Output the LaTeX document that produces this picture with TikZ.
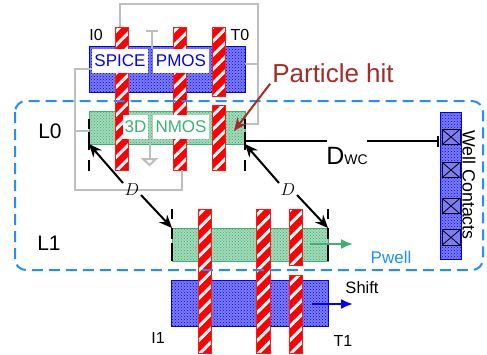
\documentclass[tikz,border=0pt]{standalone}
\usepackage{fontspec}
\setmainfont{Liberation Sans}
\usetikzlibrary{arrows.meta,patterns,calc}
\definecolor{gw}{HTML}{BEBEBE}
\definecolor{pw}{HTML}{1E90FF}
\definecolor{gn}{HTML}{3CB371}
\definecolor{hit}{HTML}{A52A2A}
\definecolor{bf}{HTML}{7C7CF4}
\definecolor{gf}{HTML}{A4D8BA}
\tikzset{
 x=1pt,y=-1pt,
 gatebar/.style={draw=red!90!white,line width=1pt,fill=red,inner sep=0pt,outer sep=0pt,minimum width=13.5pt,
  path picture={
   \coordinate (ppw) at (path picture bounding box.south west);
   \foreach \k in {0,...,13}{
    \pgfmathsetlengthmacro{\dy}{\k*14-20}
    \draw[white,line width=3pt] ([xshift=-4pt,yshift=\dy]ppw) -- ([xshift=20pt,yshift=\dy+24pt]ppw);
   }}},
 pbox/.style={draw=blue,line width=1pt,fill=bf,inner sep=0pt,outer sep=0pt},
 nbox/.style={draw=gn,line width=0.8pt,fill=gf,inner sep=0pt,outer sep=0pt},
 wlabel/.style={fill=white,inner sep=0pt,minimum height=24pt,font=\fontsize{17}{17}\selectfont},
 txt/.style={inner sep=0pt,font=\fontsize{16}{16}\selectfont},
 wire/.style={draw=gw,line width=2pt},
 tick/.style={draw=black,line width=2pt},
 blk/.style={draw=black,line width=2pt,-{Stealth[length=13pt,width=11pt]}},
 contact/.style={draw=black,line width=1pt,fill=bf,inner sep=0pt,outer sep=0pt,minimum width=18pt,minimum height=15.5pt,
  path picture={\draw[black,line width=0.8pt] (path picture bounding box.south west) -- (path picture bounding box.north east)
   (path picture bounding box.north west) -- (path picture bounding box.south east);}},
}
\begin{document}
\begin{tikzpicture}
\useasboundingbox (0,0) rectangle (487,354);
% wires behind
\coordinate (wtl) at (120,4);
\coordinate (wtr) at (258,4);
\coordinate (wrb) at (258,124);
\coordinate (wll) at (75,69);
\coordinate (wlb) at (75,190);
\coordinate (wbr) at (182,190);
\node[pbox,minimum width=156pt,minimum height=46pt] (pm0) at (167,69) {};
\node[nbox,minimum width=156pt,minimum height=33pt] (nm0) at (167,127.5) {};
\node[nbox,minimum width=156pt,minimum height=33pt] (nm1) at (250,244.5) {};
\node[pbox,minimum width=157pt,minimum height=46pt] (pm1) at (249.5,303) {};
\fill[pattern=crosshatch dots,pattern color=blue] (pm0.south west) rectangle (pm0.north east);
\fill[pattern=crosshatch dots,pattern color=blue] (pm1.south west) rectangle (pm1.north east);
\fill[pattern=crosshatch dots,pattern color=gn] (nm0.south west) rectangle (nm0.north east);
\fill[pattern=crosshatch dots,pattern color=gn] (nm1.south west) rectangle (nm1.north east);
\coordinate (vt) at (152,31);
\coordinate (vb) at (152,49);
\coordinate (gt) at (149.5,138);
\coordinate (gb) at (149.5,159);
\draw[wire] (vt) -- (vb);
\draw[wire] ($(vt)+(-6,0)$) -- ($(vt)+(6,0)$);
\draw[wire] (gt) -- (gb);
\draw[wire] ($(gb)+(-6.5,0)$) -- ($(gb)+(6.5,0)$) -- ($(gb)+(0,6)$) -- cycle;
% gates
\node[gatebar,minimum height=143pt] (g1) at (122,98.5) {};
\node[gatebar,minimum height=143pt] (g2) at (180,98.5) {};
\node[gatebar,minimum height=69pt] (g3a) at (219,61.5) {};
\node[gatebar,minimum height=65pt] (g3b) at (219,137.5) {};
\node[gatebar,minimum height=144pt] (g4) at (205,281) {};
\node[gatebar,minimum height=144pt] (g5) at (263.5,281) {};
\node[gatebar,minimum height=56pt] (g6a) at (296,237) {};
\node[gatebar,minimum height=78pt] (g6b) at (296,314) {};
% gray wires
\draw[wire] (g1.north -| wtl) -- (wtl) -- (wtr) -- (wrb) -- (nm0.east |- wrb);
\draw[wire] (pm0.east |- 0,64) -- (wtr |- 0,64);
\draw[wire] (92,69) -- (wll) -- (wlb) -- (wbr) -- (wbr |- g2.south);
\draw[wire] (wll |- 0,131) -- (nm0.west |- 0,131);
% white labels
\node[wlabel,text=blue,minimum width=56pt] (spice) at (120,61) {SPICE};
\node[wlabel,text=blue,minimum width=56pt] (pmos) at (181,61) {PMOS};
\node[wlabel,text=gn,minimum width=25pt] (td) at (135.5,127) {3D};
\node[wlabel,text=gn,minimum width=56pt] (nmos) at (181,127) {NMOS};
% text
\node[txt] (i0) at (96,35) {I0};
\node[txt] (t0) at (240,35) {T0};
\node[txt] (i1) at (158,338) {I1};
\node[txt] (t1) at (343,341) {T1};
\node[inner sep=0pt,font=\fontsize{21}{21}\selectfont] (l0) at (50,131) {L0};
\node[inner sep=0pt,font=\fontsize{21}{21}\selectfont] (l1) at (49,243) {L1};
\node[inner sep=0pt,text=hit,font=\fontsize{26}{26}\selectfont] (ph) at (333,73) {Particle hit};
\node[inner sep=0pt,text=pw,font=\fontsize{17}{17}\selectfont] (pwl) at (391,257) {Pwell};
\node[inner sep=0pt,font=\fontsize{16.5}{17}\selectfont] (shift) at (362,288) {Shift};
\node[inner sep=0pt] (dwc) at (347,156) {\fontsize{25}{25}\selectfont D\fontsize{14}{14}\selectfont WC};
\node[inner sep=0pt,font=\fontsize{17}{17}\selectfont] (d1) at (132,190) {\(D\)};
\node[inner sep=0pt,font=\fontsize{17}{17}\selectfont] (d2) at (288,190) {\(D\)};
% well strip
\node[draw=blue,line width=1pt,fill=bf,inner sep=0pt,outer sep=0pt,minimum width=21pt,minimum height=147pt] (ws) at (450.5,185.5) {};
\fill[pattern=crosshatch dots,pattern color=blue] (ws.south west) rectangle (ws.north east);
\node[contact] (c1) at (451,137) {};
\node[contact] (c2) at (451,170) {};
\node[contact] (c3) at (451,206) {};
\node[contact] (c4) at (451,237.5) {};
\node[inner sep=0pt,rotate=-90,font=\fontsize{17.8}{18}\selectfont] (wc) at (469,185) {Well Contacts};
% pwell dashed outline
\draw[pw,line width=2pt,dash pattern=on 11pt off 6pt,rounded corners=11pt] (15,101) rectangle (483,270);
% ticks
\coordinate (k1) at (89,144);
\coordinate (k2) at (245,144);
\coordinate (k3) at (172,228);
\coordinate (k4) at (328,228);
\draw[tick,dash pattern=on 10pt off 3pt on 18pt off 10pt on 11pt] (89,119) -- (89,171);
\draw[tick,dash pattern=on 10pt off 3pt on 18pt off 10pt on 11pt] (245,119) -- (245,171);
\draw[tick,dash pattern=on 10pt off 9pt on 11pt off 4pt on 18pt] (172,209) -- (172,261);
\draw[tick,dash pattern=on 10pt off 9pt on 11pt off 4pt on 18pt] (328,209) -- (328,261);
% arrows
\draw[blk] (d1) ++(-9,-7) -- (k1);
\draw[blk] (d1) ++(9,5) -- (k3);
\draw[blk] (d2) ++(-9,-7) -- (k2);
\draw[blk] (d2) ++(9,5) -- (k4);
\draw[black,line width=2pt] (nm0.east |- 0,141) -- (327,141);
\draw[black,line width=2pt,-{Bar[width=11pt]}] (367,141) -- (439,141);
\draw[hit,line width=2pt,-{Stealth[length=13pt,width=11pt]}] (ph.south west) ++(-2,1) -- (234,131);
\coordinate (ga) at (310,244);
\coordinate (gh) at (353,244);
\coordinate (ba) at (312,304);
\coordinate (bh) at (353,304);
\draw[gn,line width=2pt,-{Latex[length=12pt,width=10pt]}] (ga) -- (gh);
\draw[blue,line width=2pt,-{Latex[length=12pt,width=10pt]}] (ba) -- (bh);
\end{tikzpicture}
\end{document}
